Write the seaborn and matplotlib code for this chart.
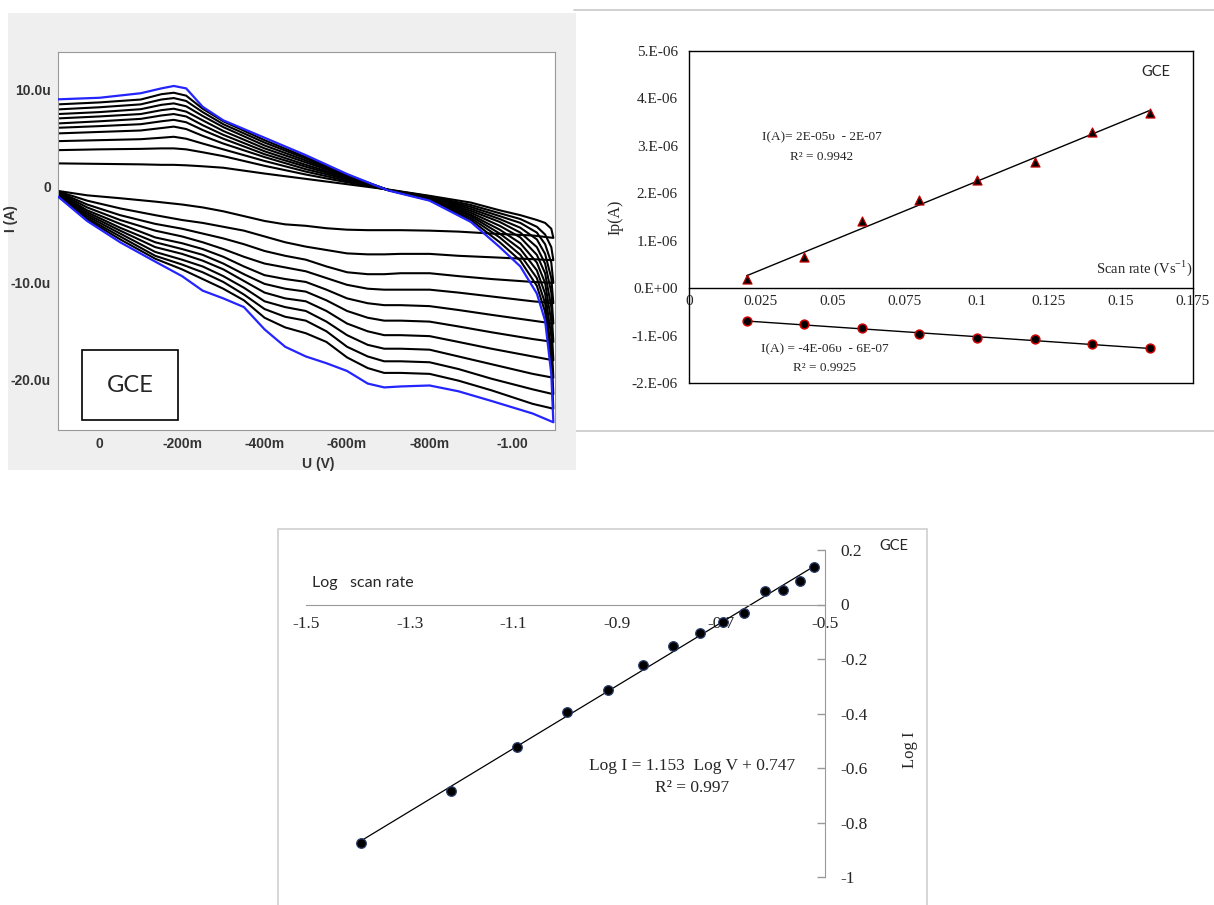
import numpy as np
import pandas as pd
import matplotlib
matplotlib.use("Agg")
import matplotlib.pyplot as plt
from matplotlib.patches import Rectangle
from matplotlib.lines import Line2D
import seaborn as sns

# ---------------- cyclic voltammograms (I in uA), scan 0 = slowest, scan 10 = fastest (blue)
u_upper = [0.10, 0.0, -0.10, -0.15, -0.18, -0.21, -0.25, -0.30, -0.40, -0.50,
           -0.60, -0.70, -0.80, -0.90, -0.97, -1.02, -1.06, -1.08, -1.095, -1.10]
i_upper = [
    [2.35, 2.3, 2.25, 2.2, 2.2, 2.15, 2.05, 1.9, 1.3, 0.75, 0.2, -0.35, -1.0, -1.7, -2.5, -3.0, -3.5, -3.8, -4.4, -5.35],
    [3.72, 3.8, 3.85, 3.9, 3.9, 3.8, 3.5, 3.1, 2.1, 1.2, 0.4, -0.38, -1.05, -1.95, -2.8, -3.4, -4.2, -5.0, -6.3, -7.65],
    [4.65, 4.75, 4.85, 5.0, 5.1, 4.9, 4.4, 3.8, 2.6, 1.5, 0.55, -0.4, -1.1, -2.15, -3.1, -3.8, -4.8, -6.0, -7.9, -10.0],
    [5.45, 5.6, 5.75, 6.0, 6.15, 5.9, 5.2, 4.4, 3.0, 1.75, 0.7, -0.4, -1.15, -2.35, -3.4, -4.3, -5.5, -7.0, -9.5, -12.1],
    [6.03, 6.2, 6.4, 6.7, 6.85, 6.6, 5.8, 4.9, 3.3, 2.0, 0.8, -0.4, -1.2, -2.55, -3.7, -4.8, -6.3, -8.0, -11.0, -14.2],
    [6.48, 6.7, 6.95, 7.3, 7.45, 7.2, 6.3, 5.3, 3.6, 2.2, 0.9, -0.4, -1.25, -2.75, -4.1, -5.3, -7.1, -9.0, -12.5, -16.1],
    [7.0, 7.2, 7.45, 7.85, 8.0, 7.7, 6.8, 5.7, 3.9, 2.45, 1.0, -0.4, -1.3, -2.95, -4.5, -5.9, -7.9, -10.0, -14.0, -18.0],
    [7.45, 7.65, 7.95, 8.4, 8.55, 8.25, 7.25, 6.1, 4.2, 2.65, 1.05, -0.4, -1.35, -3.1, -4.9, -6.5, -8.7, -11.1, -15.5, -19.8],
    [7.93, 8.15, 8.45, 8.95, 9.1, 8.8, 7.65, 6.4, 4.5, 2.85, 1.1, -0.4, -1.4, -3.3, -5.3, -7.1, -9.5, -12.1, -17.0, -21.5],
    [8.45, 8.65, 8.95, 9.5, 9.65, 9.35, 8.0, 6.7, 4.75, 3.0, 1.15, -0.42, -1.45, -3.5, -5.8, -7.7, -10.3, -13.0, -18.2, -23.0],
    [8.97, 9.13, 9.6, 10.1, 10.35, 10.1, 8.2, 6.8, 5.0, 3.2, 1.25, -0.45, -1.5, -3.7, -6.3, -8.3, -11.1, -13.9, -19.4, -24.4],
]
u_lower = [0.10, 0.03, -0.05, -0.135, -0.20, -0.25, -0.30, -0.35, -0.40, -0.45, -0.50,
           -0.55, -0.60, -0.65, -0.69, -0.73, -0.80, -0.87, -0.95, -1.05, -1.10]
i_lower = [
    [-0.5, -0.95, -1.25, -1.6, -1.9, -2.2, -2.6, -3.1, -3.6, -3.95, -4.1, -4.35, -4.5, -4.55, -4.55, -4.55, -4.6, -4.7, -4.9, -5.1, -5.35],
    [-0.55, -1.5, -2.3, -3.0, -3.5, -3.8, -4.2, -4.6, -5.2, -5.8, -6.25, -6.6, -6.95, -7.05, -7.05, -7.0, -7.0, -7.2, -7.35, -7.55, -7.65],
    [-0.6, -1.9, -3.0, -3.9, -4.4, -4.9, -5.4, -6.0, -6.7, -7.2, -7.6, -8.3, -8.9, -9.1, -9.1, -9.0, -9.0, -9.3, -9.6, -9.9, -10.0],
    [-0.65, -2.2, -3.5, -4.6, -5.2, -5.8, -6.5, -7.3, -8.0, -8.4, -8.8, -9.5, -10.2, -10.6, -10.7, -10.7, -10.7, -11.0, -11.4, -11.9, -12.1],
    [-0.7, -2.5, -3.9, -5.3, -5.9, -6.5, -7.3, -8.3, -9.2, -9.6, -9.9, -10.7, -11.6, -12.1, -12.3, -12.3, -12.4, -12.8, -13.3, -13.9, -14.2],
    [-0.75, -2.7, -4.3, -5.8, -6.5, -7.1, -8.0, -9.1, -10.1, -10.6, -10.9, -11.8, -12.9, -13.6, -13.9, -13.9, -14.0, -14.5, -15.1, -15.8, -16.1],
    [-0.8, -2.9, -4.6, -6.3, -7.0, -7.7, -8.6, -9.8, -11.0, -11.6, -11.9, -12.9, -14.2, -15.0, -15.4, -15.4, -15.5, -16.1, -16.8, -17.6, -18.0],
    [-0.85, -3.1, -4.9, -6.8, -7.6, -8.3, -9.3, -10.5, -11.9, -12.5, -12.9, -14.0, -15.4, -16.4, -16.8, -16.8, -16.9, -17.6, -18.4, -19.4, -19.8],
    [-0.9, -3.3, -5.2, -7.2, -8.1, -8.9, -9.9, -11.2, -12.7, -13.5, -13.9, -15.0, -16.6, -17.6, -18.1, -18.1, -18.2, -18.9, -19.9, -21.0, -21.5],
    [-1.0, -3.45, -5.5, -7.5, -8.6, -9.6, -10.6, -11.8, -13.6, -14.6, -15.2, -16.1, -17.7, -18.8, -19.3, -19.3, -19.4, -20.1, -21.1, -22.5, -23.0],
    [-1.1, -3.6, -5.8, -7.8, -9.3, -10.8, -11.6, -12.5, -14.8, -16.6, -17.6, -18.3, -19.1, -20.4, -20.8, -20.7, -20.6, -21.2, -22.2, -23.5, -24.4],
]

# ---------------- peak current vs scan rate
scan_rate = [0.02, 0.04, 0.06, 0.08, 0.10, 0.12, 0.14, 0.16]
ip_upper = [0.19e-6, 0.66e-6, 1.42e-6, 1.85e-6, 2.27e-6, 2.65e-6, 3.29e-6, 3.70e-6]
ip_lower = [-0.69e-6, -0.76e-6, -0.85e-6, -0.97e-6, -1.06e-6, -1.08e-6, -1.18e-6, -1.27e-6]

# ---------------- log I vs log scan rate
log_v = [-1.394, -1.220, -1.094, -0.998, -0.918, -0.850, -0.793, -0.741, -0.697,
         -0.656, -0.616, -0.581, -0.549, -0.521]
log_i = [-0.876, -0.684, -0.522, -0.395, -0.312, -0.222, -0.153, -0.106, -0.064,
         -0.032, 0.049, 0.054, 0.086, 0.138]

sns.set_style("white")
plt.rcParams['font.family'] = ['Liberation Sans', 'DejaVu Sans']
plt.rcParams['mathtext.fontset'] = 'custom'
plt.rcParams['mathtext.rm'] = 'Liberation Serif'

W, H = 1214, 905
fig = plt.figure(figsize=(W / 100, H / 100), dpi=100)


def fbox(x0, y0, x1, y1):
    # pixel box (top-left origin) -> figure fraction [l, b, w, h]
    return [x0 / W, 1 - y1 / H, (x1 - x0) / W, (y1 - y0) / H]


# panel decorations
fig.patches.append(Rectangle((8 / W, 1 - 470 / H), 568 / W, 457 / H, transform=fig.transFigure,
                             facecolor='#efefef', edgecolor='none', zorder=-5))
for yy in (10, 431):
    fig.lines.append(Line2D([574 / W, 1], [1 - yy / H] * 2, transform=fig.transFigure,
                            color='#c8c8c8', lw=1.2, zorder=-5))
fig.patches.append(Rectangle((278 / W, -0.01), 649 / W, (905 - 529) / H + 0.01, transform=fig.transFigure,
                             facecolor='none', edgecolor='#d0d0d0', lw=1.2, zorder=-5))

# ---------------- CV panel
ax1 = fig.add_axes(fbox(58, 52, 555, 430))
rows = []
for k in range(len(i_upper)):
    us = u_upper + u_lower[::-1]
    vals = i_upper[k] + i_lower[k][::-1]
    for n, (u, i) in enumerate(zip(us, vals)):
        rows.append((k, n, u, i))
cv = pd.DataFrame(rows, columns=['scan', 'step', 'U', 'I'])
last = cv['scan'].max()
sns.lineplot(data=cv[cv['scan'] < last], x='U', y='I', units='scan', estimator=None, sort=False,
             color='black', lw=1.5, ax=ax1)
sns.lineplot(data=cv[cv['scan'] == last], x='U', y='I', estimator=None, sort=False,
             color='#2424ff', lw=1.6, ax=ax1, zorder=5)
ax1.set_xlim(0.1006, -1.104)
ax1.set_ylim(-25.2, 13.86)
ax1.set_xticks([0, -0.2, -0.4, -0.6, -0.8, -1.0])
ax1.set_xticklabels(['0', '-200m', '-400m', '-600m', '-800m', '-1.00'])
ax1.set_yticks([10, 0, -10, -20])
ax1.set_yticklabels(['10.0u', '0', '-10.0u', '-20.0u'])
ax1.tick_params(axis='both', direction='out', length=3, width=1, color='#888888',
                labelsize=10, labelcolor='#333333', pad=2)
for lab in ax1.get_xticklabels() + ax1.get_yticklabels():
    lab.set_fontweight('bold')
for sp in ax1.spines.values():
    sp.set_color('#999999')
ax1.set_xlabel('U (V)', fontsize=10, fontweight='bold', color='#333333')
ax1.set_ylabel('I (A)', fontsize=10, fontweight='bold', color='#333333')
ax1.xaxis.set_label_coords(0.523, -0.072)
ax1.yaxis.set_label_coords(-0.08, 0.56)
ax1.add_patch(Rectangle((0.0483, 0.0265), 0.193, 0.185, transform=ax1.transAxes,
                        facecolor='white', edgecolor='black', lw=1.2, zorder=6))
ax1.text(0.1448, 0.119, 'GCE', transform=ax1.transAxes, ha='center', va='center',
         fontsize=17, family=['Lato', 'DejaVu Sans'], zorder=7)

# ---------------- Ip vs scan rate panel
serif = ['Liberation Serif', 'DejaVu Serif']
ax2 = fig.add_axes(fbox(689, 51, 1193, 383))
sns.regplot(x=scan_rate, y=ip_upper, ax=ax2, ci=None, marker='^', color='black',
            scatter_kws=dict(s=42, edgecolors='#c00000', linewidths=0.9, alpha=1, zorder=3),
            line_kws=dict(color='black', lw=1.0, zorder=2))
sns.regplot(x=scan_rate, y=ip_lower, ax=ax2, ci=None, marker='o', color='black',
            scatter_kws=dict(s=40, edgecolors='#d00000', linewidths=1.1, alpha=1, zorder=3),
            line_kws=dict(color='black', lw=1.0, zorder=2))
ax2.set_xlim(0, 0.175)
ax2.set_ylim(-2e-6, 5e-6)
ax2.spines['bottom'].set_position(('data', 0))
for sp in ax2.spines.values():
    sp.set_color('black')
    sp.set_linewidth(1.0)
ax2.plot([0, 1], [0, 0], transform=ax2.transAxes, color='black', lw=1.0, clip_on=False)
ax2.set_xticks([0, 0.025, 0.05, 0.075, 0.1, 0.125, 0.15, 0.175])
ax2.set_xticklabels(['0', '0.025', '0.05', '0.075', '0.1', '0.125', '0.15', '0.175'])
ax2.set_yticks([-2e-6, -1e-6, 0, 1e-6, 2e-6, 3e-6, 4e-6, 5e-6])
ax2.set_yticklabels(['-2.E-06', '-1.E-06', '0.E+00', '1.E-06', '2.E-06', '3.E-06', '4.E-06', '5.E-06'])
ax2.tick_params(axis='y', direction='out', length=5, width=1, color='#888888', labelsize=11, pad=3)
ax2.tick_params(axis='x', direction='out', length=0, labelsize=11, pad=5)
for lab in ax2.get_xticklabels() + ax2.get_yticklabels():
    lab.set_family(serif)
ax2.set_ylabel('Ip(A)', fontsize=11.5, family=serif, labelpad=6)
ax2.text(0.175, 0.42e-6, 'Scan rate (Vs$^{\\mathregular{-1}}$)', ha='right', va='center',
         fontsize=10.5, family=serif)
ax2.text(0.162, 4.55e-6, 'GCE', ha='center', va='center', fontsize=10.5, family=['Lato', 'DejaVu Sans'])
ax2.text(0.0462, 3.19e-6, 'I(A)= 2E-05\u03c5  - 2E-07', ha='center', va='center', fontsize=9.5, family=serif)
ax2.text(0.0462, 2.77e-6, 'R\u00b2 = 0.9942', ha='center', va='center', fontsize=9.5, family=serif)
ax2.text(0.047, -1.29e-6, 'I(A) = -4E-06\u03c5  - 6E-07', ha='center', va='center', fontsize=9.5, family=serif)
ax2.text(0.047, -1.68e-6, 'R\u00b2 = 0.9925', ha='center', va='center', fontsize=9.5, family=serif)

# ---------------- log-log panel
ax3 = fig.add_axes(fbox(306, 550, 825, 877))
sns.regplot(x=log_v, y=log_i, ax=ax3, ci=None, marker='o', color='black',
            scatter_kws=dict(s=48, edgecolors='#2b3f6b', linewidths=0.9, alpha=1, zorder=3),
            line_kws=dict(color='black', lw=0.9, zorder=2))
ax3.set_xlim(-1.5, -0.5)
ax3.set_ylim(-1, 0.2)
ax3.spines['left'].set_visible(False)
ax3.spines['top'].set_visible(False)
ax3.spines['bottom'].set_position(('data', 0))
for sp in ('bottom', 'right'):
    ax3.spines[sp].set_color('#999999')
ax3.yaxis.tick_right()
ax3.set_xticks([-1.5, -1.3, -1.1, -0.9, -0.7, -0.5])
ax3.set_xticklabels(['-1.5', '-1.3', '-1.1', '-0.9', '-0.7', '-0.5'])
ax3.set_yticks([0.2, 0, -0.2, -0.4, -0.6, -0.8, -1])
ax3.set_yticklabels(['0.2', '0', '-0.2', '-0.4', '-0.6', '-0.8', '-1'])
ax3.tick_params(axis='y', direction='in', length=6, width=1, color='#999999', labelsize=12.5, pad=11)
ax3.tick_params(axis='x', direction='out', length=5, width=1, color='#999999', labelsize=12.5, pad=3)
for lab in ax3.get_xticklabels() + ax3.get_yticklabels():
    lab.set_family(serif)
ax3.text(-1.488, 0.08, 'Log   scan rate', ha='left', va='center', fontsize=11.5, family=['Lato', 'DejaVu Sans'])
ax3.text(-0.756, -0.593, 'Log I = 1.153  Log V + 0.747', ha='center', va='center', fontsize=12.5, family=serif)
ax3.text(-0.756, -0.673, 'R\u00b2 = 0.997', ha='center', va='center', fontsize=12.5, family=serif)
fig.text(910 / W, 1 - 750 / H, 'Log I', rotation=90, ha='center', va='center', fontsize=12, family=serif)
fig.text(894 / W, 1 - 546 / H, 'GCE', ha='center', va='center', fontsize=10.5, family=['Lato', 'DejaVu Sans'])

fig.savefig('out.png', dpi=100)
